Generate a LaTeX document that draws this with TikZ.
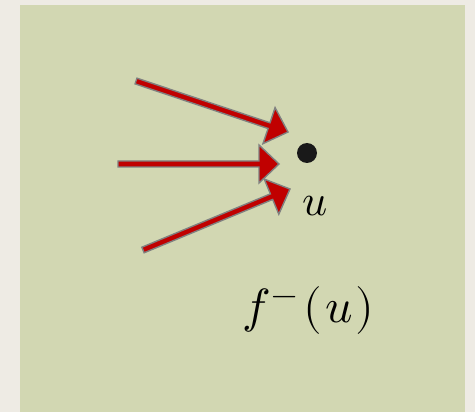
\documentclass[tikz,border=0pt]{standalone}
\usepackage{amsmath,amssymb}
\usepackage{unicode-math}
\setmathfont{Latin Modern Math}
\usepackage{tikz}
\usetikzlibrary{calc,positioning}

\definecolor{pagebg}{HTML}{EEEBE4}
\definecolor{slidegreen}{HTML}{D2D7B2}
\definecolor{arrowred}{HTML}{C00000}
\definecolor{arrowedge}{HTML}{808080}

\tikzset{
  redarrow/.style={fill=arrowred, draw=arrowedge, line width=1.4pt, line join=miter},
  vertex/.style={circle, fill=black!90, inner sep=0pt, minimum size=20pt},
  biglabel/.style={font=\fontsize{44}{50}\selectfont, inner sep=0pt}
}

% block arrow from #1 to #2
\newcommand{\blockarrow}[2]{%
  \coordinate (h) at ($(#2)!20pt!(#1)$);
  \draw[redarrow] ($(#1)!3pt!90:(#2)$) -- ($(h)!3pt!-90:(#1)$) -- ($(h)!19pt!-90:(#1)$)
    -- (#2) -- ($(h)!19pt!90:(#1)$) -- ($(h)!3pt!90:(#1)$) -- ($(#1)!3pt!-90:(#2)$) -- cycle;}

\begin{document}
\begin{tikzpicture}[x=1pt, y=-1pt]
	\useasboundingbox (0,0) rectangle (475,412);
	\fill[pagebg] (0,0) rectangle (475,412);
	\fill[slidegreen] (20,5) rectangle (465,412);

	\node[vertex] (u) at (307,153) {};
	\node[biglabel, anchor=base] (ulabel) at (315,215) {$u$};
	\node[biglabel, anchor=base, font=\fontsize{48}{54}\selectfont] (fminus) at (308,323)
	  {$f^{\mkern1mu -}\mkern2mu(\mkern1mu u\mkern1mu)$};

	\coordinate (tailA) at (136,81);
	\coordinate (tailB) at (118,164);
	\coordinate (tailC) at (143,250);
	\coordinate (tipA) at (288,132);
	\coordinate (tipB) at (279,164);
	\coordinate (tipC) at (290,189);

	\blockarrow{tailA}{tipA}
	\blockarrow{tailB}{tipB}
	\blockarrow{tailC}{tipC}
\end{tikzpicture}
\end{document}
